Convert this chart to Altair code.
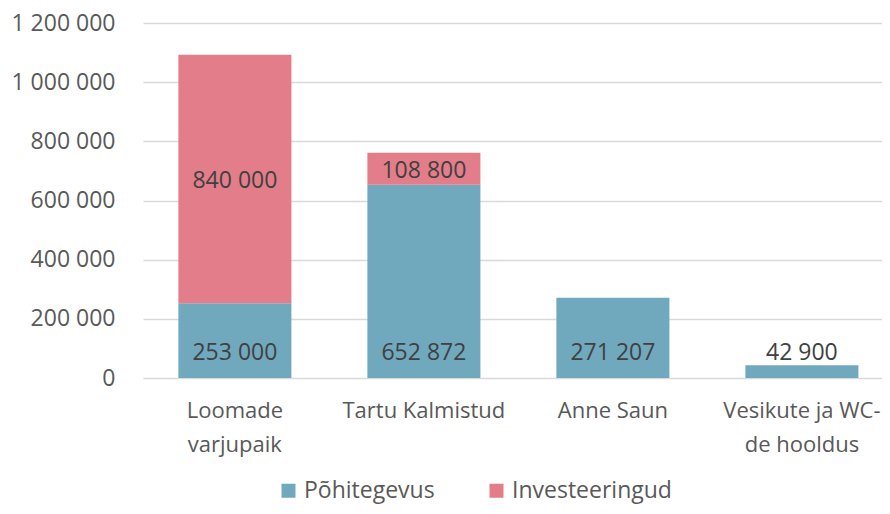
import altair as alt
import pandas as pd

categories = ["Loomade\nvarjupaik", "Tartu Kalmistud", "Anne Saun", "Vesikute ja WC-\nde hooldus"]
series = ["Põhitegevus", "Investeeringud"]
pohitegevus = [253000, 652872, 271207, 42900]
investeeringud = [840000, 108800, 0, 0]
colors = ["#70A9BE", "#E47D8A"]
y_ticks = [0, 200000, 400000, 600000, 800000, 1000000, 1200000]


def fmt(v):
    return f"{v:,}".replace(",", " ")


rows = []
for c, p, i in zip(categories, pohitegevus, investeeringud):
    rows.append({"cat": c, "series": series[0], "value": p, "ord": 0,
                 "label": fmt(p), "mid": p / 2})
    if i > 0:
        rows.append({"cat": c, "series": series[1], "value": i, "ord": 1,
                     "label": fmt(i), "mid": p + i / 2})
df = pd.DataFrame(rows)

FONT = "Open Sans"

x = alt.X("cat:N", sort=categories, title=None,
          scale=alt.Scale(paddingInner=0.402, paddingOuter=0.156, align=0.6),
          axis=alt.Axis(labelAngle=0, labelFontSize=22, labelColor="#595959",
                        labelPadding=22, domain=False, ticks=False,
                        labelLimit=400, labelLineHeight=34,
                        labelExpr="split(datum.label, '\\n')"))

bars = alt.Chart(df).mark_bar().encode(
    x=x,
    y=alt.Y("value:Q", stack="zero", title=None,
            scale=alt.Scale(domain=[0, 1200000], nice=False),
            axis=alt.Axis(values=y_ticks, grid=True, gridColor="#D9D9D9",
                          gridWidth=1.3, domain=False, ticks=False,
                          labelFontSize=23, labelColor="#595959",
                          labelPadding=28,
                          labelExpr="replace(format(datum.value, ','), /,/g, ' ')")),
    color=alt.Color("series:N", scale=alt.Scale(domain=series, range=colors),
                    legend=alt.Legend(title=None, orient="none", legendX=134,
                                      legendY=456, direction="horizontal",
                                      symbolType="square", symbolSize=196,
                                      symbolStrokeWidth=0, labelFontSize=23,
                                      labelColor="#595959", columnPadding=50,
                                      labelOffset=4)),
    order=alt.Order("ord:Q"),
)

top_text = alt.Chart(df).transform_filter(alt.datum.ord == 1).mark_text(
    fontSize=23, color="#404040", baseline="alphabetic", dy=9
).encode(x=x, y=alt.Y("mid:Q"), text="label:N")

base_text = alt.Chart(df).transform_filter(alt.datum.ord == 0).mark_text(
    fontSize=23, color="#404040", baseline="alphabetic", dy=-18
).encode(x=x, y=alt.datum(0), text="label:N")

chart = alt.layer(bars, top_text, base_text).properties(
    width=739, height=355,
    autosize=alt.AutoSizeParams(type="none"),
    padding={"left": 135, "top": 15, "right": 0, "bottom": 127},
).configure(font=FONT).configure_view(stroke=None)

chart.save("out.html", embed_options={"renderer": "svg", "actions": False})
